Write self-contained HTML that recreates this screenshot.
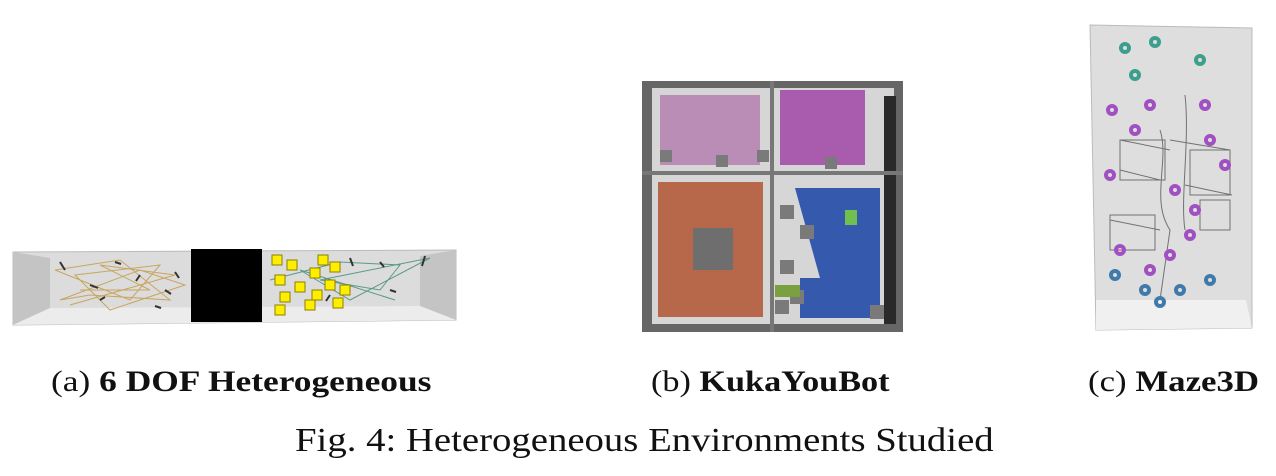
<!DOCTYPE html>
<html><head><meta charset="utf-8"><style>
body{margin:0;width:1276px;height:476px;background:#fff;overflow:hidden;position:relative;font-family:"Liberation Serif",serif;}
.cap{position:absolute;font-size:30px;color:#111;white-space:nowrap;transform-origin:0 0;}
svg{position:absolute;left:0;top:0}
</style></head><body>
<svg width="1276" height="476">
 <g>
  <polygon points="13,252 456,250 456,320 13,325" fill="#dcdcdc" stroke="#bbb"/>
  <polygon points="13,252 50,258 50,308 13,325" fill="#c4c4c4"/>
  <polygon points="456,250 420,256 420,306 456,320" fill="#c4c4c4"/>
  <polygon points="50,308 420,306 456,320 13,325" fill="#ececec"/>
  <g stroke="#c8a560" stroke-width="1" fill="none">
   <path d="M55,270 L120,260 L170,300 L90,295 L60,300 L140,270 L185,285 L110,310 L75,275 L160,265 L130,300 L55,270"/>
   <path d="M80,290 L150,290 L100,265 L175,275 L70,305"/>
  </g>
  <g stroke="#5a9a8a" stroke-width="1" fill="none">
   <path d="M270,280 L340,262 L400,265 L380,290 L320,280 L430,258 L350,300 L300,270 L395,300"/>
  </g>
  <g stroke="#333" stroke-width="2" fill="none">
   <path d="M60,262 l5,8 M90,285 l8,3 M115,262 l6,2 M140,275 l-4,6 M165,290 l6,4 M100,300 l5,-3 M175,272 l4,6 M155,306 l6,2 M350,258 l3,8 M380,262 l4,5 M425,256 l-3,10 M390,290 l6,2 M330,295 l-4,6"/>
  </g>
  <g fill="#ffee00" stroke="#8a8000" stroke-width="1">
   <rect x="272" y="255" width="10" height="10"/><rect x="287" y="260" width="10" height="10"/><rect x="275" y="275" width="10" height="10"/>
   <rect x="295" y="282" width="10" height="10"/><rect x="280" y="292" width="10" height="10"/><rect x="310" y="268" width="10" height="10"/>
   <rect x="318" y="255" width="10" height="10"/><rect x="330" y="262" width="10" height="10"/><rect x="325" y="280" width="10" height="10"/>
   <rect x="340" y="285" width="10" height="10"/><rect x="305" y="300" width="10" height="10"/><rect x="333" y="298" width="10" height="10"/>
   <rect x="275" y="305" width="10" height="10"/><rect x="312" y="290" width="10" height="10"/>
  </g>
  <rect x="191" y="249" width="71" height="73" fill="#000"/>
 </g>
 <g>
  <rect x="642" y="81" width="261" height="251" fill="#666"/>
  <rect x="652" y="88" width="242" height="236" fill="#d6d6d6"/>
  <rect x="884" y="96" width="12" height="228" fill="#2a2a2a"/>
  <rect x="770" y="81" width="4" height="251" fill="#777"/>
  <rect x="642" y="171" width="261" height="4" fill="#777"/>
  <path d="M660,95 h100 v70 h-100z" fill="#b785b4" opacity=".9"/>
  <path d="M780,90 h85 v75 h-85z" fill="#a44fa8" opacity=".9"/>
  <path d="M658,182 h105 v135 h-105z" fill="#b8684a"/>
  <rect x="693" y="228" width="40" height="42" fill="#6e6e6e"/>
  <path d="M795,188 h85 v130 h-80 v-40 h20 z" fill="#3459ad"/>
  <g fill="#7a7a7a"><rect x="780" y="205" width="14" height="14"/><rect x="800" y="225" width="14" height="14"/><rect x="780" y="260" width="14" height="14"/><rect x="790" y="290" width="14" height="14"/><rect x="870" y="305" width="14" height="14"/><rect x="660" y="150" width="12" height="12"/><rect x="716" y="155" width="12" height="12"/><rect x="757" y="150" width="12" height="12"/><rect x="825" y="157" width="12" height="12"/><rect x="775" y="300" width="14" height="14"/></g>
  <rect x="775" y="285" width="25" height="12" fill="#7aa040"/>
  <rect x="845" y="210" width="12" height="15" fill="#70c050"/>
 </g>
 <g>
  <polygon points="1090,25 1252,28 1252,328 1096,330" fill="#dedede" stroke="#bbb"/>
  <polygon points="1096,300 1246,300 1252,328 1096,330" fill="#f0f0f0"/>
  <g stroke="#444" stroke-width="1" fill="none" opacity=".7">
   <path d="M1160,130 C1170,160 1150,200 1170,230 L1160,300 M1185,95 C1190,140 1180,200 1185,230 M1120,140 L1170,150 M1170,140 L1230,150 M1120,170 L1160,180 M1185,185 L1232,195 M1110,220 L1160,230"/>
   <path d="M1120,140 h45 v40 h-45z M1190,150 h40 v45 h-40z M1110,215 h45 v35 h-45z M1200,200 h30 v30 h-30z"/>
  </g>
  <g fill="none" stroke="#a050c0" stroke-width="4">
   <circle cx="1112" cy="110" r="4"/><circle cx="1135" cy="130" r="4"/><circle cx="1150" cy="105" r="4"/><circle cx="1205" cy="105" r="4"/><circle cx="1225" cy="165" r="4"/><circle cx="1110" cy="175" r="4"/><circle cx="1175" cy="190" r="4"/><circle cx="1195" cy="210" r="4"/><circle cx="1120" cy="250" r="4"/><circle cx="1190" cy="235" r="4"/><circle cx="1150" cy="270" r="4"/><circle cx="1170" cy="255" r="4"/><circle cx="1210" cy="140" r="4"/>
  </g>
  <g fill="none" stroke="#3b9f8c" stroke-width="4"><circle cx="1125" cy="48" r="4"/><circle cx="1155" cy="42" r="4"/><circle cx="1200" cy="60" r="4"/><circle cx="1135" cy="75" r="4"/></g>
  <g fill="none" stroke="#3f7aaa" stroke-width="4"><circle cx="1115" cy="275" r="4"/><circle cx="1145" cy="290" r="4"/><circle cx="1160" cy="302" r="4"/><circle cx="1210" cy="280" r="4"/><circle cx="1180" cy="290" r="4"/></g>
 </g>
</svg>
<div class="cap" style="left:51px;top:365px;transform:scaleX(1.18)">(a) <b>6 DOF Heterogeneous</b></div>
<div class="cap" style="left:651px;top:365px;transform:scaleX(1.14)">(b) <b>KukaYouBot</b></div>
<div class="cap" style="left:1088px;top:365px;transform:scaleX(1.16)">(c) <b>Maze3D</b></div>
<div class="cap" style="left:295px;top:422px;font-size:34px;transform:scaleX(1.14)">Fig. 4: Heterogeneous Environments Studied</div>
</body></html>
